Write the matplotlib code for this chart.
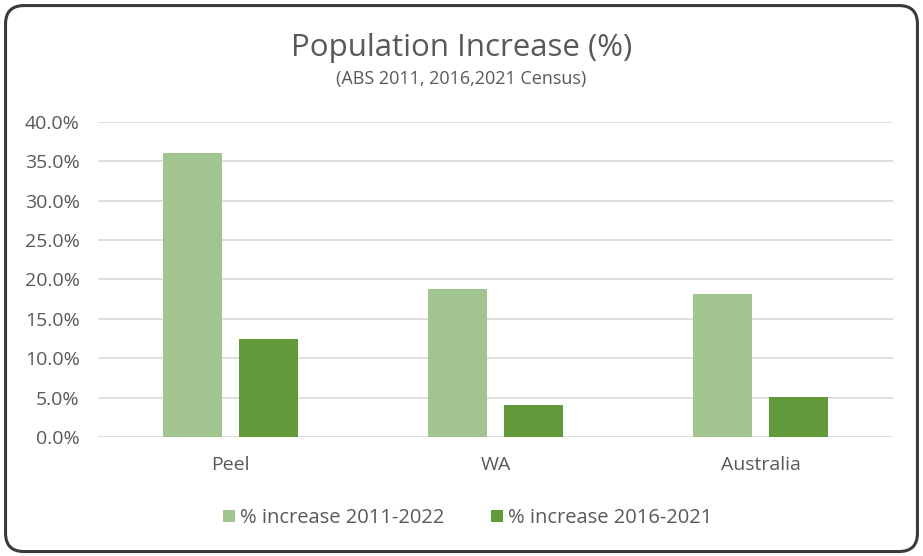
import matplotlib.pyplot as plt
import matplotlib.patches as mpatches
import numpy as np
from matplotlib.ticker import PercentFormatter

regions = ["Peel", "WA", "Australia"]
inc_2011_2022 = [36.1, 18.8, 18.1]
inc_2016_2021 = [12.4, 4.0, 5.1]
series_labels = ["% increase 2011-2022", "% increase 2016-2021"]
yticks = [0, 5, 10, 15, 20, 25, 30, 35, 40]

LIGHT = "#A2C48F"
DARK = "#61993B"
TEXT = "#595959"

plt.rcParams["font.family"] = ["Open Sans", "DejaVu Sans"]

fig = plt.figure(figsize=(9.23, 5.56), dpi=100)
ax = fig.add_axes([0.106, 0.214, 0.862, 0.567])

# rounded chart frame
frame = mpatches.FancyBboxPatch((0.006, 0.008), 0.988, 0.982,
                                boxstyle="round,pad=0,rounding_size=0.02",
                                transform=fig.transFigure, fill=False,
                                edgecolor="#3a3a3a", linewidth=2.2,
                                mutation_aspect=923 / 556)
fig.patches.append(frame)

x = np.arange(len(regions))
w = 0.222
ax.bar(x - 0.143, inc_2011_2022, w, color=LIGHT, label=series_labels[0], zorder=3)
ax.bar(x + 0.143, inc_2016_2021, w, color=DARK, label=series_labels[1], zorder=3)

ax.set_xlim(-0.5, 2.5)
ax.set_ylim(0, 40)
ax.set_yticks(yticks)
ax.yaxis.set_major_formatter(PercentFormatter(decimals=1))
ax.set_xticks(x)
ax.set_xticklabels(regions)
ax.tick_params(axis="both", length=0, labelsize=14, colors=TEXT)
ax.tick_params(axis="x", pad=14)
ax.tick_params(axis="y", pad=13)
ax.grid(axis="y", color="#d9d9d9", linewidth=1.2, zorder=0)
for s in ax.spines.values():
    s.set_visible(False)

fig.text(0.5, 0.913, "Population Increase (%)", ha="center", va="center",
         fontsize=22.5, color=TEXT)
fig.text(0.5, 0.858, "(ABS 2011, 2016,2021 Census)", ha="center", va="center",
         fontsize=13, color=TEXT)

fig.legend(loc="center", bbox_to_anchor=(0.507, 0.068), ncol=2, frameon=False,
           fontsize=14.5, labelcolor=TEXT, handlelength=0.6, handleheight=0.6,
           handletextpad=0.25, columnspacing=2.3)

fig.savefig("out.png", dpi=100)
